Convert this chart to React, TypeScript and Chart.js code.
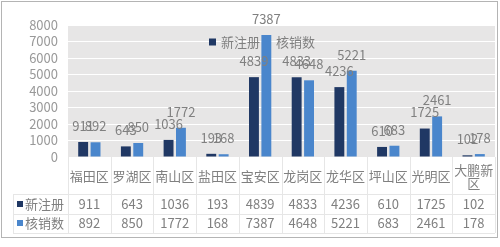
import React, { useEffect, useRef } from "react";
import { Chart, registerables } from "chart.js";

Chart.register(...registerables);

const categories = ["福田区", "罗湖区", "南山区", "盐田区", "宝安区", "龙岗区", "龙华区", "坪山区", "光明区", "大鹏新区"];
const categoryLines = [["福田区"], ["罗湖区"], ["南山区"], ["盐田区"], ["宝安区"], ["龙岗区"], ["龙华区"], ["坪山区"], ["光明区"], ["大鹏新", "区"]];
const seriesNames = ["新注册", "核销数"];
const newRegistered = [911, 643, 1036, 193, 4839, 4833, 4236, 610, 1725, 102];
const redeemed = [892, 850, 1772, 168, 7387, 4648, 5221, 683, 2461, 178];
const colors = ["#203864", "#4a86cc"];

const FONT = '"Noto Sans CJK SC", "Noto Sans", sans-serif';
const TEXT = "#808080";

const tablePlugin = {
  id: "excelTable",
  beforeDraw(chart: any) {
    const { ctx, chartArea } = chart;
    ctx.save();
    ctx.fillStyle = "#ffffff";
    ctx.fillRect(0, 0, chart.width, chart.height);
    ctx.fillStyle = "#e7e6e6";
    ctx.fillRect(chartArea.left, chartArea.top, chartArea.right - chartArea.left, chartArea.bottom - chartArea.top);
    ctx.restore();
  },
  beforeDatasetsDraw(chart: any) {
    const { ctx } = chart;
    ctx.save();
    ctx.font = `13px ${FONT}`;
    ctx.textBaseline = "middle";
    ctx.textAlign = "left";
    const ly = 42;
    const lxs = [209, 264];
    seriesNames.forEach((name, i) => {
      const lx = lxs[i];
      ctx.fillStyle = colors[i];
      ctx.fillRect(lx, ly - 3.5, 7, 7);
      ctx.fillStyle = TEXT;
      ctx.fillText(name, lx + 12, ly);
    });
    ctx.restore();
  },
  afterDatasetsDraw(chart: any) {
    const { ctx, chartArea } = chart;
    ctx.save();
    ctx.font = `13px ${FONT}`;
    ctx.fillStyle = TEXT;
    ctx.textAlign = "center";
    ctx.textBaseline = "middle";
    chart.data.datasets.forEach((ds: any, di: number) => {
      const meta = chart.getDatasetMeta(di);
      meta.data.forEach((el: any, i: number) => {
        ctx.fillText(String(ds.data[i]), el.x, el.y - 16);
      });
    });
    ctx.restore();

    const xs = chart.scales.x;
    const n = categories.length;
    const cw = (chartArea.right - chartArea.left) / n;
    const top = chartArea.bottom;
    const r1 = 194, r2 = 213.5, r3 = 233;
    ctx.save();
    ctx.strokeStyle = "#e6e6e6";
    ctx.lineWidth = 1;
    ctx.beginPath();
    for (let i = 0; i <= n; i++) {
      const x = Math.round(chartArea.left + i * cw) + 0.5;
      ctx.moveTo(x, top);
      ctx.lineTo(x, r3);
    }
    ctx.moveTo(13.5, r1);
    ctx.lineTo(13.5, r3);
    [r1, r2, r3].forEach((y) => {
      ctx.moveTo(13, Math.round(y) + 0.5);
      ctx.lineTo(chartArea.right, Math.round(y) + 0.5);
    });
    ctx.stroke();

    ctx.font = `13px ${FONT}`;
    ctx.fillStyle = TEXT;
    ctx.textAlign = "center";
    ctx.textBaseline = "middle";
    categoryLines.forEach((lines, i) => {
      const x = xs.getPixelForValue(i);
      const lh = 12.5;
      const cy = 176.5;
      lines.forEach((t, j) => {
        ctx.fillText(t, x, cy - ((lines.length - 1) * lh) / 2 + j * lh);
      });
    });
    const rows = [newRegistered, redeemed];
    const rowY = [204, 223];
    rows.forEach((vals, ri) => {
      ctx.textAlign = "center";
      ctx.fillStyle = TEXT;
      vals.forEach((v, i) => {
        ctx.fillText(String(v), xs.getPixelForValue(i), rowY[ri]);
      });
      ctx.fillStyle = colors[ri];
      ctx.fillRect(17, rowY[ri] - 3, 6, 6);
      ctx.fillStyle = TEXT;
      ctx.textAlign = "left";
      ctx.fillText(seriesNames[ri], 25, rowY[ri]);
    });

    ctx.strokeStyle = "#b4b4b4";
    ctx.strokeRect(1.5, 1.5, 496, 236);
    ctx.restore();
  },
};

export default function App() {
  const ref = useRef<HTMLCanvasElement>(null);
  useEffect(() => {
    document.body.style.margin = "0";
    const chart = new Chart(ref.current!, {
      type: "bar",
      data: {
        labels: categories,
        datasets: [
          { label: seriesNames[0], data: newRegistered, backgroundColor: colors[0], categoryPercentage: 0.58, barPercentage: 0.8 },
          { label: seriesNames[1], data: redeemed, backgroundColor: colors[1], categoryPercentage: 0.58, barPercentage: 0.8 },
        ],
      },
      options: {
        responsive: false,
        animation: false,
        layout: { padding: { left: 8, right: 5, top: 25, bottom: 90 } },
        plugins: { legend: { display: false }, tooltip: { enabled: false } },
        scales: {
          x: { display: false },
          y: {
            min: 0,
            max: 8000,
            afterFit: (s: any) => { s.width = 60; },
            ticks: {
              stepSize: 1000,
              autoSkip: false,
              padding: 10,
              color: "#999999",
              font: { family: FONT, size: 13 },
              callback: (v: any) => String(v),
            },
            grid: { color: "#ffffff", lineWidth: 1, drawTicks: false },
            border: { display: false },
          },
        },
      },
      plugins: [tablePlugin],
    });
    return () => chart.destroy();
  }, []);
  return (
    <div style={{ width: 500, height: 247 }}>
      <canvas ref={ref} width={500} height={247} style={{ display: "block" }} />
    </div>
  );
}
